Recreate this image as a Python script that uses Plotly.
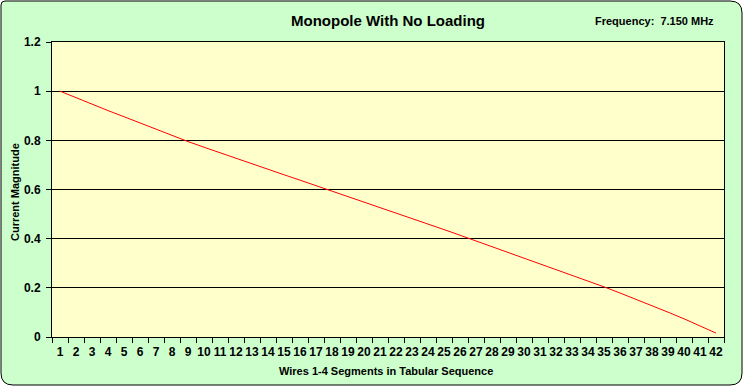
import plotly.graph_objects as go

segments = [str(i) for i in range(1, 43)]
current = [1.000, 0.973, 0.947, 0.921, 0.896, 0.870, 0.845, 0.820, 0.795, 0.772,
           0.749, 0.727, 0.704, 0.682, 0.660, 0.638, 0.616, 0.594, 0.572, 0.549,
           0.527, 0.504, 0.482, 0.459, 0.437, 0.414, 0.391, 0.368, 0.345, 0.322,
           0.299, 0.275, 0.252, 0.228, 0.204, 0.179, 0.154, 0.128, 0.101, 0.074,
           0.046, 0.016]
y_ticks = [0, 0.2, 0.4, 0.6, 0.8, 1.0, 1.2]

W, H = 744, 387
L, R, T, B = 52, 724, 42, 337
pw, ph = R - L, B - T

def px(x):
    return (x - L) / pw

def py(y):
    return (B - y) / ph

FONT = "Liberation Sans, Arial, sans-serif"

fig = go.Figure()
fig.add_trace(go.Scatter(x=segments, y=current, mode="lines",
                         line=dict(color="#FF0000", width=1), showlegend=False,
                         hoverinfo="x+y"))

# rounded outer border
x0, x1, y0, y1 = 1, 742, 1, 385
r = 12
path = (f"M {px(x0+4)},{py(y0)} L {px(x1-r)},{py(y0)} Q {px(x1)},{py(y0)} {px(x1)},{py(y0+r)} "
        f"L {px(x1)},{py(y1-r)} Q {px(x1)},{py(y1)} {px(x1-r)},{py(y1)} "
        f"L {px(x0+r)},{py(y1)} Q {px(x0)},{py(y1)} {px(x0)},{py(y1-r)} "
        f"L {px(x0)},{py(y0+4)} Q {px(x0)},{py(y0)} {px(x0+4)},{py(y0)} Z")

fig.update_layout(
    width=W, height=H,
    margin=dict(l=L, r=W - R, t=T, b=H - B, pad=0),
    paper_bgcolor="white",
    plot_bgcolor="#FFFFCC",
    font=dict(family=FONT, size=11, color="black"),
    shapes=[
        dict(type="path", path=path, xref="paper", yref="paper",
             fillcolor="#CCFFCC", line=dict(color="black", width=1), layer="below"),
        dict(type="rect", x0=0, x1=1, y0=0, y1=1, xref="paper", yref="paper",
             fillcolor="#FFFFCC", line=dict(width=0), layer="below"),
    ],
    xaxis=dict(type="category", tickson="boundaries", ticks="outside", ticklen=5,
               tickcolor="black", tickwidth=1, showgrid=False,
               showline=True, linecolor="black", linewidth=1, mirror=True,
               tickfont=dict(family=FONT, size=12, color="black", weight="bold"),
               ticklabelstandoff=4,
               tickangle=0, range=[-0.5, 41.5], fixedrange=True),
    yaxis=dict(range=[0, 1.2], tickvals=y_ticks, ticks="outside", ticklen=5,
               tickcolor="black", showgrid=True, gridcolor="black", gridwidth=1,
               showline=True, linecolor="black", linewidth=1, mirror=True,
               zeroline=False,
               tickfont=dict(family=FONT, size=12, color="black", weight="bold"),
               ticklabelstandoff=3,
               fixedrange=True),
    annotations=[
        dict(text="<b>Monopole With No Loading</b>", x=px(388), y=py(20),
             xref="paper", yref="paper", showarrow=False,
             font=dict(family=FONT, size=15), xanchor="center", yanchor="middle"),
        dict(text="<b>Frequency:  7.150 MHz</b>", x=px(716), y=py(21),
             xref="paper", yref="paper", showarrow=False,
             font=dict(family=FONT, size=11), xanchor="right", yanchor="middle"),
        dict(text="<b>Current Magnitude</b>", x=px(15), y=py(192),
             xref="paper", yref="paper", showarrow=False, textangle=-90,
             font=dict(family=FONT, size=11), xanchor="center", yanchor="middle"),
        dict(text="<b>Wires 1-4 Segments in Tabular Sequence</b>", x=px(386), y=py(371),
             xref="paper", yref="paper", showarrow=False,
             font=dict(family=FONT, size=11), xanchor="center", yanchor="middle"),
    ],
)

fig.write_html("out.html", config={"displayModeBar": False},
               post_script="document.body.style.margin='0';document.body.style.overflow='hidden';")
